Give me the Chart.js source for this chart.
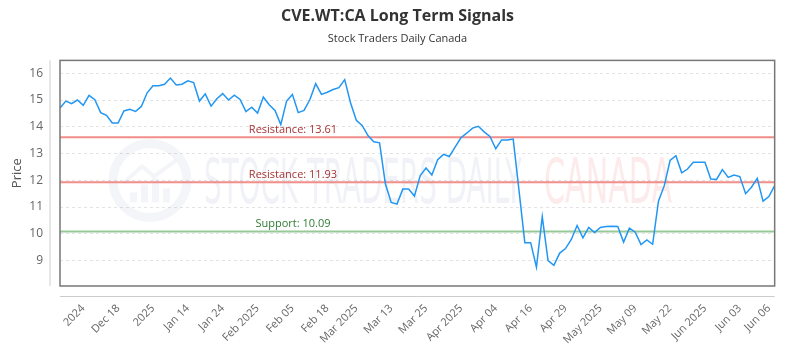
<!DOCTYPE html>
<html>
<head>
<meta charset="utf-8">
<script src="https://cdn.jsdelivr.net/npm/chart.js@4.4.1/dist/chart.umd.min.js"></script>
<style>
  body { margin: 0; background: #fff; }
  #wrap { width: 800px; height: 350px; }
</style>
</head>
<body>
<div id="wrap"><canvas id="chart"></canvas></div>
<script>
const prices = [
  14.70, 14.96, 14.86, 15.00, 14.80, 15.17, 15.01, 14.53, 14.43, 14.14,
  14.14, 14.59, 14.65, 14.57, 14.76, 15.27, 15.53, 15.53, 15.59, 15.82,
  15.56, 15.59, 15.72, 15.65, 14.96, 15.23, 14.77, 15.05, 15.24, 15.00,
  15.18, 15.02, 14.57, 14.73, 14.51, 15.11, 14.82, 14.61, 14.08, 14.96,
  15.21, 14.53, 14.61, 15.01, 15.61, 15.21, 15.29, 15.39, 15.46, 15.76,
  14.90, 14.24, 14.05, 13.67, 13.44, 13.40, 11.87, 11.17, 11.11, 11.67,
  11.67, 11.41, 12.18, 12.46, 12.20, 12.77, 12.97, 12.89, 13.24, 13.59,
  13.76, 13.95, 14.02, 13.81, 13.64, 13.18, 13.51, 13.51, 13.54, 11.62,
  9.67, 9.67, 8.75, 10.64, 9.00, 8.82, 9.28, 9.45, 9.79, 10.31,
  9.85, 10.24, 10.05, 10.24, 10.27, 10.28, 10.27, 9.69, 10.21, 10.06,
  9.60, 9.77, 9.61, 11.22, 11.80, 12.74, 12.92, 12.28, 12.42, 12.67,
  12.67, 12.67, 12.05, 12.03, 12.40, 12.11, 12.20, 12.14, 11.50, 11.74,
  12.07, 11.22, 11.39, 11.80
];

const tickLabels = ['2024', 'Dec 18', '2025', 'Jan 14', 'Jan 24', 'Feb 2025', 'Feb 05', 'Feb 18',
  'Mar 2025', 'Mar 13', 'Mar 25', 'Apr 2025', 'Apr 04', 'Apr 16', 'Apr 29', 'May 2025',
  'May 09', 'May 22', 'Jun 2025', 'Jun 03', 'Jun 06'];
const tickAt = [4, 10, 16, 22, 28, 34, 40, 46, 51, 57, 63, 69, 75, 81, 87, 93, 99, 105, 111, 117, 122];

const yTicks = [9, 10, 11, 12, 13, 14, 15, 16];

const levels = [13.61, 11.93, 10.09];
const levelNames = ['Resistance', 'Resistance', 'Support'];

const labels = prices.map((_, i) => {
  const k = tickAt.indexOf(i);
  return k >= 0 ? tickLabels[k] : '';
});

const FONT = "'Open Sans', 'Noto Sans', sans-serif";

const decor = {
  id: 'decor',
  beforeDatasetsDraw(chart) {
    const { ctx, chartArea: a, scales: { y } } = chart;
    ctx.save();

    // watermark
    const cx = a.left + 90, cy = a.top + 120;
    ctx.strokeStyle = 'rgba(120,145,190,0.09)';
    ctx.lineWidth = 9;
    ctx.beginPath();
    ctx.arc(cx, cy, 37, 0, Math.PI * 2);
    ctx.stroke();
    ctx.fillStyle = 'rgba(120,145,190,0.09)';
    [[-20, 10], [-9, 18], [2, 24], [13, 14]].forEach(([dx, h]) => {
      ctx.fillRect(cx + dx, cy + 22 - h, 7, h);
    });
    ctx.lineWidth = 4;
    ctx.beginPath();
    ctx.moveTo(cx - 26, cy + 2);
    ctx.lineTo(cx - 8, cy - 14);
    ctx.lineTo(cx + 4, cy - 4);
    ctx.lineTo(cx + 26, cy - 20);
    ctx.stroke();

    ctx.font = "62px 'DejaVu Sans Condensed', 'Liberation Sans Narrow', sans-serif";
    ctx.textBaseline = 'alphabetic';
    ctx.textAlign = 'left';
    ctx.fillStyle = 'rgba(110,130,175,0.10)';
    ctx.fillText('STOCK TRADERS DAILY', a.left + 144, a.top + 143, 318);
    ctx.fillStyle = 'rgba(235,90,90,0.12)';
    ctx.fillText('CANADA', a.left + 484, a.top + 143, 128);

    // support / resistance lines
    levels.forEach((v, i) => {
      const py = y.getPixelForValue(v);
      const isSupport = levelNames[i] === 'Support';
      ctx.strokeStyle = isSupport ? 'rgba(140,195,140,0.9)' : 'rgba(240,130,125,0.9)';
      ctx.lineWidth = 2;
      ctx.beginPath();
      ctx.moveTo(a.left, py);
      ctx.lineTo(a.right, py);
      ctx.stroke();
      ctx.font = '11px ' + FONT;
      ctx.textAlign = 'center';
      ctx.textBaseline = 'bottom';
      ctx.fillStyle = isSupport ? '#2e7d32' : '#a83232';
      ctx.fillText(levelNames[i] + ': ' + v.toFixed(2), a.left + a.width * 0.326, py - 2);
    });
    ctx.restore();
  },
  afterDraw(chart) {
    const { ctx, chartArea: a } = chart;
    ctx.save();
    ctx.strokeStyle = '#cccccc';
    ctx.lineWidth = 1;
    ctx.beginPath();
    ctx.moveTo(a.left - 10, a.top);
    ctx.lineTo(a.left - 10, a.bottom);
    ctx.moveTo(a.left, a.bottom + 10.5);
    ctx.lineTo(a.right, a.bottom + 10.5);
    ctx.stroke();
    ctx.strokeStyle = '#777777';
    ctx.lineWidth = 1.5;
    ctx.strokeRect(a.left, a.top, a.right - a.left, a.bottom - a.top);
    ctx.restore();
  }
};

new Chart(document.getElementById('chart'), {
  type: 'line',
  data: {
    labels: labels,
    datasets: [{
      label: 'Price',
      data: prices,
      borderColor: '#2196f3',
      borderWidth: 1.5,
      pointRadius: 0,
      tension: 0,
      fill: false
    }]
  },
  options: {
    responsive: true,
    maintainAspectRatio: false,
    animation: false,
    layout: { padding: { left: 5, right: 10, top: 0, bottom: 0 } },
    plugins: {
      legend: { display: false },
      tooltip: { enabled: false },
      title: {
        display: true,
        text: 'CVE.WT:CA Long Term Signals',
        color: '#333333',
        font: { family: FONT, size: 16, weight: 'bold' },
        padding: { top: 7, bottom: 6 }
      },
      subtitle: {
        display: true,
        text: 'Stock Traders Daily Canada',
        color: '#333333',
        font: { family: FONT, size: 11 },
        padding: { top: 0, bottom: 15 }
      }
    },
    scales: {
      x: {
        grid: { display: false, drawTicks: false },
        border: { display: false },
        afterFit: (s) => { s.height = 64; },
        ticks: {
          autoSkip: false,
          maxRotation: 45,
          minRotation: 45,
          padding: 16,
          color: '#666666',
          font: { family: FONT, size: 11 }
        }
      },
      y: {
        min: 8.05,
        max: 16.48,
        afterBuildTicks: (s) => { s.ticks = yTicks.map(v => ({ value: v })); },
        afterFit: (s) => { s.width = 55; },
        grid: { color: '#e3e3e3', drawTicks: false },
        border: { display: false, dash: [3, 3] },
        title: {
          display: true,
          text: 'Price',
          color: '#555555',
          font: { family: FONT, size: 13 }
        },
        ticks: {
          padding: 17,
          color: '#666666',
          font: { family: FONT, size: 12 }
        }
      }
    }
  },
  plugins: [decor]
});
</script>
</body>
</html>
